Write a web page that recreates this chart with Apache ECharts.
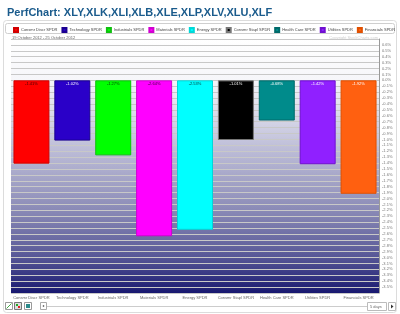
<!DOCTYPE html>
<html><head><meta charset="utf-8">
<script src="https://cdn.jsdelivr.net/npm/echarts@6/dist/echarts.min.js"></script>
<style>html,body{margin:0;padding:0;background:#fff}#c{width:400px;height:314px}</style>
</head><body><div id="c"></div>
<script>
const categories = ["Consmr Discr SPDR","Technology SPDR","Industrials SPDR","Materials SPDR","Energy SPDR","Consmr Stapl SPDR","Health Care SPDR","Utilities SPDR","Financials SPDR"];
const values = [-1.41, -1.02, -1.27, -2.64, -2.53, -1.01, -0.68, -1.42, -1.92];
const colors = ["#ff0000","#2a00c8","#00ff00","#ff00ff","#00ffff","#000000","#008b8b","#9020ff","#ff6010"];
const borderColors = ["#d00000","#1a0090","#10c010","#d000d0","#00d8d8","#777777","#006a6a","#7010d0","#e05000"];
const labelColors = ["#400000","#ffffff","#004000","#400040","#004040","#ffffff","#ffffff","#ffffff","#ffffff"];
const title = "PerfChart: XLY,XLK,XLI,XLB,XLE,XLP,XLV,XLU,XLF";
const dateRange = "19 October 2012 - 25 October 2012";
const copyright = "Copyright StockCharts.com";
const yMin = -3.6, yMax = 0.7, yStep = 0.1;

const FONT = 'Liberation Sans';
const chart = echarts.init(document.getElementById('c'));
const series = categories.map((name, i) => ({
  name: name,
  type: 'bar',
  stack: 'all',
  barWidth: '88%',
  data: categories.map((c, j) => j === i ? values[i] : null),
  itemStyle: { color: colors[i], borderColor: borderColors[i], borderWidth: 1 },
  label: {
    show: true, position: 'insideTop', distance: 2,
    fontSize: 4, fontFamily: FONT, color: labelColors[i],
    formatter: p => p.value == null ? '' : p.value.toFixed(2) + '%'
  },
  emphasis: { disabled: true }
}));

chart.setOption({
  animation: false,
  backgroundColor: '#fff',
  title: {
    text: title, left: 2, top: 2,
    textStyle: { fontSize: 11, fontWeight: 'bold', color: '#1a5b8c', fontFamily: FONT }
  },
  legend: {
    data: categories, top: 27, left: 13, width: 386, itemWidth: 4, itemHeight: 4, itemGap: 4,
    icon: 'rect', selectedMode: false, padding: 0,
    textStyle: { fontSize: 4, color: '#444', fontFamily: FONT, padding: [0,0,0,-2] }
  },
  grid: {
    left: 11, right: 21, top: 39, bottom: 21, show: true, borderWidth: 0,
    backgroundColor: {
      type: 'linear', x: 0, y: 0, x2: 0, y2: 1,
      colorStops: [
        { offset: 0, color: '#ffffff' },
        { offset: 0.16, color: '#f6f6fa' },
        { offset: 0.4, color: '#c4c4dc' },
        { offset: 0.65, color: '#9090ba' },
        { offset: 0.85, color: '#5a5a98' },
        { offset: 1, color: '#181870' }
      ]
    }
  },
  xAxis: {
    type: 'category', data: categories, position: 'bottom',
    axisLine: { show: false }, axisTick: { show: false },
    axisLabel: { fontSize: 4, color: '#666', margin: 3, interval: 0, fontFamily: FONT }
  },
  yAxis: {
    type: 'value', position: 'right', min: yMin, max: yMax, interval: yStep,
    axisLine: { show: true, lineStyle: { color: '#999', width: 1 } },
    axisTick: { show: false },
    axisLabel: {
      fontSize: 4, color: '#777', margin: 3, showMinLabel: false, showMaxLabel: false,
      fontFamily: FONT,
      formatter: v => v.toFixed(1) + '%'
    },
    splitLine: { show: true, lineStyle: { color: '#c8c8c8', width: 1 } }
  },
  series: series,
  graphic: [
    { type: 'rect', z: -10, shape: { x: 3.5, y: 20.5, width: 393, height: 292, r: 3 }, style: { fill: '#fff', stroke: '#dcdcdc', lineWidth: 1 } },
    { type: 'rect', z: -9, shape: { x: 5.5, y: 23.5, width: 389, height: 10, r: 2 }, style: { fill: '#fff', stroke: '#cfcfcf', lineWidth: 1 } },
    { type: 'text', left: 12, top: 36, style: { text: dateRange, fontSize: 4, fill: '#666', fontFamily: FONT } },
    { type: 'text', right: 22, top: 36, style: { text: copyright, fontSize: 4, fill: '#cfcfcf', fontFamily: FONT } },
    { type: 'rect', shape: { x: 5.5, y: 302.5, width: 7, height: 7 }, style: { fill: '#fff', stroke: '#999' } },
    { type: 'line', shape: { x1: 6.5, y1: 308.5, x2: 11.5, y2: 303.5 }, style: { stroke: '#4a4' } },
    { type: 'rect', shape: { x: 14.5, y: 302.5, width: 7, height: 7 }, style: { fill: '#ddd', stroke: '#777' } },
    { type: 'rect', shape: { x: 16, y: 304, width: 2, height: 2 }, style: { fill: '#2a2' } },
    { type: 'rect', shape: { x: 18, y: 306, width: 2, height: 2 }, style: { fill: '#d22' } },
    { type: 'rect', shape: { x: 24.5, y: 302.5, width: 7, height: 7 }, style: { fill: '#fff', stroke: '#999' } },
    { type: 'rect', shape: { x: 26, y: 304, width: 4, height: 4 }, style: { fill: '#2a8a8a' } },
    { type: 'rect', shape: { x: 40.5, y: 302.5, width: 6, height: 7 }, style: { fill: '#fff', stroke: '#aaa' } },
    { type: 'circle', shape: { cx: 43.5, cy: 306, r: 0.8 }, style: { fill: '#333' } },
    { type: 'line', shape: { x1: 47, y1: 306.5, x2: 367, y2: 306.5 }, style: { stroke: '#ccc' } },
    { type: 'rect', shape: { x: 367.5, y: 302.5, width: 19, height: 8 }, style: { fill: '#fff', stroke: '#bbb' } },
    { type: 'text', x: 370, y: 304.5, style: { text: '5 days', fontSize: 4, fill: '#666', fontFamily: FONT } },
    { type: 'rect', shape: { x: 388.5, y: 302.5, width: 7, height: 8 }, style: { fill: '#fff', stroke: '#bbb' } },
    { type: 'polygon', shape: { points: [[391, 304.5], [391, 308.5], [393.5, 306.5]] }, style: { fill: '#333' } }
  ]
});
</script></body></html>
